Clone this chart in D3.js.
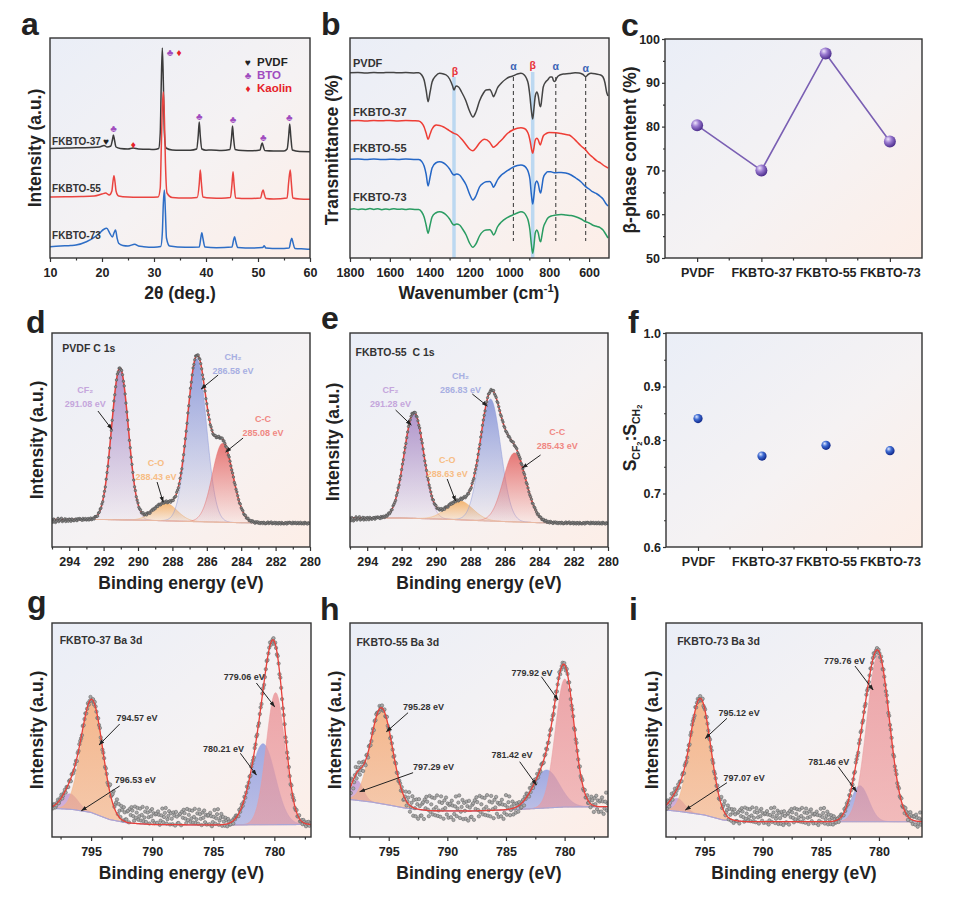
<!DOCTYPE html>
<html><head><meta charset="utf-8">
<script src="https://cdn.jsdelivr.net/npm/d3@7"></script>
<style>body{margin:0;background:#fff}svg{display:block}</style>
</head><body><svg id="fig" width="970" height="899"></svg>
<script>
// ================= DATA =================
// (a) XRD  [2theta, intensity a.u.]
const xrdNames=["FKBTO-37","FKBTO-55","FKBTO-73"];
const xrd37=[[10,109.5],[12,109.8],[14,110],[16,110.3],[18,110.5],[19.5,111],[20.4,112.5],[21.0,111],[21.7,112],[22.0,118],[22.2,123],[22.4,118],[22.7,111],[23.5,109.5],[25,109],[26,110],[27,109],[28.5,108.8],[30,108.5],[30.9,109.5],[31.2,125],[31.4,175],[31.6,210],[31.8,175],[32.0,125],[32.3,110],[33.5,108],[35,107.8],[37,107.8],[38.2,109],[38.5,122],[38.7,136],[38.9,122],[39.2,109],[40,107.8],[41,108],[43,107.5],[44.6,108.5],[44.9,120],[45.1,132],[45.3,120],[45.6,108.5],[47,107.5],[49,107.3],[50.4,108],[50.6,112],[50.8,115],[51.0,112],[51.3,107.5],[53,107],[55,107],[55.6,109],[55.9,122],[56.1,134],[56.3,122],[56.6,108],[58,106.5],[60,106.3]];
const xrd55=[[10,61],[13,61.3],[16,61.5],[18.5,62],[20,64],[20.7,65],[21.4,63],[21.9,67],[22.1,76],[22.3,82.3],[22.5,76],[22.7,67],[23.2,62],[25,61],[27,60.8],[29,60.8],[30.8,61],[31.2,70],[31.4,110],[31.6,150],[31.8,166],[32.0,140],[32.2,95],[32.5,65],[33.5,60.5],[36,60],[38.3,60.5],[38.7,74],[38.9,88],[39.1,76],[39.4,61],[41,60],[43,59.8],[44.7,60.5],[45.0,74],[45.2,86.3],[45.4,74],[45.7,60],[48,59.5],[50.5,60],[50.8,66],[51.0,68],[51.2,64],[51.5,59.5],[53,59],[55.6,60],[55.9,76],[56.2,88],[56.4,76],[56.7,60],[58,59],[60,58.7]];
const xrd73=[[10,11.3],[12,12],[14,12.5],[15,13],[17,16.3],[18.5,20.7],[19.5,24.7],[20.3,28.5],[20.9,29.7],[21.5,24.7],[22.0,21],[22.3,25],[22.6,28],[22.9,20],[23.2,14.7],[24,12.5],[25,12],[26.3,13.7],[27,12],[28,11.3],[30,10.7],[31.3,11.5],[31.6,25],[31.8,55],[32.0,68],[32.2,45],[32.4,20],[33,12],[36,10.7],[38.7,11],[39.0,20],[39.2,25.3],[39.4,20],[39.8,11],[42,10.3],[45.0,11],[45.3,18],[45.5,21.3],[45.7,17],[46.1,10.5],[49,10],[50.9,10.5],[51.2,12.3],[51.5,10],[54,9.5],[56.0,10],[56.3,17],[56.5,19.7],[56.7,16],[57.1,9.5],[59,9],[60,8.7]];
const xrdTicks=[10,20,30,40,50,60];
const xrdMinor=[15,25,35,45,55];
const xrdLegend=["PVDF","BTO","Kaolin"];
const xrdLegendSym=["♥","♣","♦"];
const xrdMarkSym=["♣","♣","♦","♣","♣","♣","♣","♥","♦"];
const xrdMarkAngle=[22.2,33.1,34.8,38.7,45.2,51.0,56.0,20.8,26.0];
const xrdMarkLevel=[130,206,206,142,139,121,141,117,114];

// (b) FTIR [wavenumber, transmittance a.u.]
const ftirNames=["PVDF","FKBTO-37","FKBTO-55","FKBTO-73"];
const ftirPVDF=[[1800,185.3],[1760,185.6],[1720,185.1],[1680,185.5],[1640,185.2],[1600,185.6],[1560,185.2],[1520,185.4],[1480,185.1],[1455,185.3],[1440,183],[1428,178],[1418,168],[1408,156.3],[1398,166],[1388,176],[1370,182],[1350,184.7],[1330,184],[1317,183],[1300,179],[1285,172],[1278,168],[1268,172],[1255,171],[1240,166],[1220,158],[1200,147],[1183,141],[1168,146],[1150,157],[1130,165],[1117,168],[1098,168.5],[1088,165],[1080,161.3],[1072,164],[1060,170],[1040,175],[1017,179],[1000,181],[983,182],[960,184],[942,184.7],[925,183],[915,180],[905,174],[897,162],[890,148],[883,139],[877,149],[870,162],[862,166],[855,162],[848,153],[843,151.3],[837,160],[830,171],[818,176],[808,178],[795,181],[785,181],[778,177],[772,176.5],[765,179],[755,182],[730,184],[700,184.5],[670,185.2],[650,185],[630,183.5],[617,181.5],[605,183.5],[590,184.7],[565,184],[542,183],[530,181],[520,175],[512,166],[505,162]];
const ftir37=[[1800,137.3],[1760,137.6],[1720,137.1],[1680,137.5],[1640,137.2],[1600,137.6],[1560,137.1],[1520,137.4],[1480,137.2],[1455,137],[1440,135],[1428,131],[1418,125],[1408,118.7],[1398,124],[1388,129],[1367,133],[1350,132.5],[1330,131],[1310,128.5],[1290,126],[1278,124.7],[1260,123],[1240,119],[1220,114],[1200,109],[1183,107.3],[1168,110],[1150,115],[1125,118.7],[1100,116],[1090,113],[1080,110.7],[1070,112],[1050,116],[1030,120],[1010,124.5],[983,128],[960,129.8],[942,130.3],[925,129.5],[912,127],[903,123],[895,116],[888,108],[883,104.7],[877,110],[870,118],[862,119.7],[855,118],[848,114],[845,113],[838,117],[830,122],[815,124.5],[800,125.5],[767,125.3],[740,124.5],[717,123.5],[700,123],[680,120],[660,116],[640,112],[617,108],[600,104],[583,101],[560,97],[542,95],[530,93],[517,91.3],[505,90]];
const ftir55=[[1800,98.7],[1760,99],[1720,98.5],[1680,98.9],[1640,98.4],[1600,98.8],[1560,98.5],[1520,98.9],[1480,98.6],[1455,98.5],[1440,96.5],[1428,92],[1418,84],[1408,72],[1398,81],[1388,90],[1370,95],[1350,96.3],[1330,95],[1317,93],[1300,89],[1285,84],[1278,83],[1265,84],[1250,83],[1235,79],[1217,73],[1200,64],[1183,58],[1168,62],[1150,71],[1130,75],[1117,76.3],[1098,76.5],[1088,74],[1080,70.7],[1072,73],[1060,78],[1040,83],[1017,86.3],[1000,88.5],[983,90.7],[960,92.5],[942,93],[925,92],[915,90],[905,86],[897,79],[890,64],[883,54],[877,62],[870,74],[862,77],[855,74],[848,67],[843,65],[837,71],[830,80],[818,84.5],[808,86.3],[792,86.3],[780,85.5],[767,85.3],[740,85.5],[717,85],[690,83],[667,80],[640,76],[617,71.3],[600,69],[583,66.3],[560,64],[542,61.3],[530,59],[517,54.7],[505,52]];
const ftir73=[[1800,48.7],[1780,49.3],[1760,48.4],[1740,49.1],[1720,48.5],[1700,49.4],[1680,48.6],[1660,49.2],[1640,48.3],[1620,49],[1600,48.6],[1580,49.3],[1560,48.7],[1540,49],[1520,48.4],[1500,48.9],[1475,48.6],[1455,48.5],[1440,46],[1428,41],[1418,33],[1408,24.7],[1398,33],[1388,41],[1370,45],[1350,46.3],[1330,45],[1317,43],[1300,39],[1285,34],[1278,33],[1265,34],[1250,33],[1235,29],[1217,23],[1200,15],[1183,10.7],[1168,14],[1150,22],[1130,27],[1117,28],[1098,28.3],[1088,26],[1080,23],[1072,25],[1060,31],[1040,36],[1017,39.7],[1000,41.5],[983,43],[960,45],[942,46.3],[925,45],[915,42],[905,37],[897,28],[890,14],[883,4.7],[877,12],[870,25],[862,28],[855,25],[848,18],[843,16.3],[837,22],[830,30],[818,36],[808,39.7],[790,42],[767,43],[740,43.5],[717,43],[690,42.5],[667,41.3],[640,39],[617,36.3],[600,35],[583,33],[560,31.5],[542,30],[530,28],[520,25],[505,20]];
const ftirTicks=[1800,1600,1400,1200,1000,800,600];
const ftirMinor=[1700,1500,1300,1100,900,700];
const bandPhase=["β","α","β","α","α"];
const bandWn=[1278,980,883,767,617];

// (c),(f)
const samples=["PVDF","FKBTO-37","FKBTO-55","FKBTO-73"];
const betaContent=[80.3,70.0,96.7,76.6];
const betaTicks=[50,60,70,80,90,100];
const ratioCF2CH2=[0.84,0.77,0.79,0.78];
const ratioTicks=[0.6,0.7,0.8,0.9,1.0];

// (d),(e) C 1s fits: peak centre (eV), height (a.u.), FWHM (eV)
const c1sNames=["CF₂","C-O","CH₂","C-C"];
const dBE=["291.08 eV","288.43 eV","286.58 eV","285.08 eV"];
const dCenter=[291.05,288.43,286.58,285.08];
const dHeight=[152,18,163,79];
const dFwhm=[1.15,1.6,1.3,1.4];
const dBaseline=[[295,27.5],[292,27.5],[289,26.5],[287,25.5],[284,24.3],[280,23.7]];
const eBE=["291.28 eV","288.63 eV","286.83 eV","285.43 eV"];
const eCenter=[291.28,288.63,286.83,285.43];
const eHeight=[106,19,122,69];
const eFwhm=[1.35,1.8,1.4,1.55];
const eBaseline=[[295,29],[292,29],[289,27.5],[287,26],[284,24.3],[280,23.7]];
const c1sTicks=[294,292,290,288,286,284,282,280];
const c1sMinor=[295,293,291,289,287,285,283,281];

// (g),(h),(i) Ba 3d fits
const gBE=["796.53 eV","794.57 eV","780.21 eV","779.06 eV"];
const gCenter=[796.75,794.93,780.93,779.9];
const gHeight=[15.5,113,81,132];
const gFwhm=[1.6,2.05,2.35,1.8];
const gBaseline=[[798.2,28.7],[796.5,27.5],[795,24.5],[793.5,17.5],[792,14],[790,12.5],[785,12],[777,12.5]];
const gScatter=[[798.2,3,0],[793.8,3,0],[793,9,9],[784.5,9,7],[783.5,3,0],[777,3,0]];
const hBE=["797.29 eV","795.28 eV","781.42 eV","779.92 eV"];
const hCenter=[797.7,795.62,781.55,779.99];
const hHeight=[20,96,38,128];
const hFwhm=[1.2,2.2,2.6,1.9];
const hBaseline=[[798.3,37.5],[796.5,35],[795,32],[793.5,28.7],[791.5,26.3],[788,26],[784,27.5],[780,30],[776.3,30.3]];
const hScatter=[[798.3,10,0],[797,6,0],[796,3,0],[794,4,0],[793,13,3],[785,13,3],[784,6,0],[782,3,0],[778,4,0],[777.5,10,2],[776.3,12,4]];
const iBE=["797.07 eV","795.12 eV","781.46 eV","779.76 eV"];
const iCenter=[797.35,795.35,781.64,780.07];
const iHeight=[13,116,36,167];
const iFwhm=[1.5,2.1,1.8,2.3];
const iBaseline=[[798.3,27],[797,25.3],[795,22],[793.4,17],[791.4,15.3],[776.3,15.3]];
const iScatter=[[798.3,6,0],[797,3,0],[794,3,0],[793,9,6],[784.5,9,5],[783.5,3,0],[778,3,0],[777,8,2],[776.3,8,2]];
const baTicks=[795,790,785,780];
const baMinor=[797.5,792.5,787.5,782.5,777.5];
const residual=[0.31,-0.72,0.55,0.18,-0.93,-0.47,0.12,0.88,-0.64,-0.05,0.41,0.96,-0.77,-0.29,0.08,0.61,-0.86,0.39,-0.22,-0.83,0.49,0.14,-0.97,0.55,0.03,-0.71,-0.68,0.24,0.36,-0.92,0.59,-0.08,0.81,0.44,-0.17,-0.66,0.91,-0.33,0.26,0.79,-0.52,-0.12,0.74,-0.58,0.05,0.95,-0.63,-0.21,0.45,-0.69,0.88,0.37,-0.14,-0.84,0.57,-0.02,0.79,-0.51,0.33,-0.76,0.21];

// ================= LAYOUT / STYLE =================
const FONT='"Liberation Sans", Arial, Helvetica, sans-serif';
const svg=d3.select("#fig").attr("font-family",FONT).attr("font-weight","bold");
const defs=svg.append("defs");
const bgG=defs.append("linearGradient").attr("id","bgGrad").attr("x1",0).attr("y1",0).attr("x2",1).attr("y2",1);
bgG.append("stop").attr("offset","0%").attr("stop-color","#eaeef7");
bgG.append("stop").attr("offset","55%").attr("stop-color","#f5f2f3");
bgG.append("stop").attr("offset","100%").attr("stop-color","#fdeee7");
defs.append("marker").attr("id","arr").attr("viewBox","0 0 10 10").attr("refX",9).attr("refY",5)
  .attr("markerWidth",6).attr("markerHeight",6).attr("orient","auto")
  .append("path").attr("d","M0,1.5L10,5L0,8.5Z").attr("fill","#222");

function sphereGrad(id,c0,c1,c2){
  const g=defs.append("radialGradient").attr("id",id).attr("cx","38%").attr("cy","35%").attr("r","65%").attr("fx","35%").attr("fy","30%");
  g.append("stop").attr("offset","0%").attr("stop-color",c0);
  g.append("stop").attr("offset","45%").attr("stop-color",c1);
  g.append("stop").attr("offset","100%").attr("stop-color",c2);
}
sphereGrad("sphP","#efe6fb","#9a7ad0","#4e2f8e");
sphereGrad("sphB","#dfe8ff","#3d6ad2","#10288a");

function panel(id,b){
  const g=svg.append("g");
  g.append("rect").attr("x",b.x0).attr("y",b.y0).attr("width",b.x1-b.x0).attr("height",b.y1-b.y0).attr("fill","url(#bgGrad)");
  defs.append("clipPath").attr("id","clip"+id).append("rect").attr("x",b.x0).attr("y",b.y0).attr("width",b.x1-b.x0).attr("height",b.y1-b.y0);
  const c=g.append("g").attr("clip-path",`url(#clip${id})`);
  return {g,c};
}
function frame(g,b){
  g.append("rect").attr("x",b.x0).attr("y",b.y0).attr("width",b.x1-b.x0).attr("height",b.y1-b.y0)
    .attr("fill","none").attr("stroke","#333").attr("stroke-width",1.4);
}
function styleAxis(ax,fs){
  ax.attr("font-family",FONT).attr("font-weight","bold");
  ax.select(".domain").remove();
  ax.selectAll("line").attr("stroke","#333").attr("stroke-width",1.2);
  ax.selectAll("text").attr("font-size",fs||12.5).attr("fill","#222").attr("font-weight","bold");
}
function xAxis(g,x,b,major,minor,fmt){
  const a=g.append("g").attr("transform",`translate(0,${b.y1})`)
    .call(d3.axisBottom(x).tickValues(major).tickSize(4).tickSizeOuter(0).tickPadding(6).tickFormat(fmt||d3.format("d")));
  styleAxis(a);
  if(minor){
    const m=g.append("g").attr("transform",`translate(0,${b.y1})`)
      .call(d3.axisBottom(x).tickValues(minor).tickSize(2.5).tickSizeOuter(0).tickFormat(""));
    styleAxis(m);
  }
}
function xTitle(parts,cx,y){
  const t=svg.append("text").attr("x",cx).attr("y",y).attr("text-anchor","middle").attr("font-size",17.5).attr("fill","#222");
  parts(t);
}
function yTitle(str,x,cy){
  svg.append("text").attr("transform",`translate(${x},${cy}) rotate(-90)`).attr("text-anchor","middle")
    .attr("dy","0.35em").attr("font-size",17.5).attr("fill","#222").text(str);
}
function letter(s,x,y){svg.append("text").attr("x",x).attr("y",y).attr("font-size",32).attr("fill","#222").text(s);}

// ================= (a) XRD =================
(function(){
  const b={x0:50,x1:310,y0:38,y1:258};
  const x=d3.scaleLinear().domain([10,60]).range([b.x0,b.x1]);
  const y=d3.scaleLinear().domain([0,220]).range([b.y1,b.y0]);
  const P=panel("a",b);
  const line=d3.line().x(d=>x(d[0])).y(d=>y(d[1])).curve(d3.curveMonotoneX);
  const cols=["#3b3b3b","#ea4440","#2e6ec6"];
  [xrd37,xrd55,xrd73].forEach((s,i)=>P.c.append("path").datum(s).attr("d",line).attr("fill","none").attr("stroke",cols[i]).attr("stroke-width",1.5));
  const lvl=[117,70,23];
  xrdNames.forEach((n,i)=>P.c.append("text").attr("x",x(10.4)).attr("y",y(lvl[i])).attr("dy","0.35em").attr("font-size",10).attr("fill","#333").text(n));
  const symCol={"♥":"#222","♣":"#a04cbf","♦":"#e62129"};
  xrdMarkSym.forEach((s,i)=>P.c.append("text").attr("x",x(xrdMarkAngle[i])).attr("y",y(xrdMarkLevel[i])).attr("dy","0.35em")
    .attr("text-anchor","middle").attr("font-size",10).attr("fill",symCol[s]).text(s));
  const legCol=["#222","#a04cbf","#e62129"];
  xrdLegend.forEach((n,i)=>{
    const yy=62+i*13;
    P.c.append("text").attr("x",248).attr("y",yy).attr("dy","0.35em").attr("text-anchor","middle").attr("font-size",10).attr("fill",legCol[i]).text(xrdLegendSym[i]);
    P.c.append("text").attr("x",257).attr("y",yy).attr("dy","0.35em").attr("font-size",11.5).attr("fill",legCol[i]).text(n);
  });
  frame(P.g,b);
  xAxis(P.g,x,b,xrdTicks,xrdMinor);
  xTitle(t=>t.text("2θ (deg.)"),180,299);
  yTitle("Intensity (a.u.)",35,148);
  letter("a",21,35);
})();

// ================= (b) FTIR =================
(function(){
  const b={x0:350,x1:609,y0:38,y1:258};
  const x=d3.scaleLinear().domain([1800,500]).range([b.x0,b.x1]);
  const y=d3.scaleLinear().domain([0,220]).range([b.y1,b.y0]);
  const P=panel("b",b);
  bandWn.forEach((w,i)=>{
    if(bandPhase[i]==="β"){
      P.c.append("line").attr("x1",x(w)).attr("x2",x(w)).attr("y1",y(i===0?181:186)).attr("y2",y(0)).attr("stroke","#bcd8f1").attr("stroke-width",3.5);
    }else{
      P.c.append("line").attr("x1",x(w)).attr("x2",x(w)).attr("y1",y(181)).attr("y2",y(17)).attr("stroke","#333").attr("stroke-width",1).attr("stroke-dasharray","4,3");
    }
  });
  const line=d3.line().x(d=>x(d[0])).y(d=>y(d[1])).curve(d3.curveMonotoneX);
  const cols=["#444","#ee3d35","#2567c6","#2a9c62"];
  [ftirPVDF,ftir37,ftir55,ftir73].forEach((s,i)=>P.c.append("path").datum(s).attr("d",line).attr("fill","none").attr("stroke",cols[i]).attr("stroke-width",1.5));
  const lvl=[195,146,110,61];
  ftirNames.forEach((n,i)=>P.c.append("text").attr("x",x(1785)).attr("y",y(lvl[i])).attr("dy","0.35em").attr("font-size",11).attr("fill","#333").text(n));
  const lblLvl=[187,192,193,192,190];
  bandWn.forEach((w,i)=>P.c.append("text").attr("x",x(w)+(i===0?1:0)).attr("y",y(lblLvl[i])).attr("dy","0.35em").attr("text-anchor","middle")
    .attr("font-size",10.5).attr("fill",bandPhase[i]==="β"?"#e8333a":"#3a62b5").text(bandPhase[i]));
  frame(P.g,b);
  xAxis(P.g,x,b,ftirTicks,ftirMinor);
  xTitle(t=>{t.append("tspan").text("Wavenumber (cm");t.append("tspan").attr("font-size",11).attr("dy",-7).text("-1");t.append("tspan").attr("dy",7).text(")");},479,299);
  yTitle("Transmittance (%)",332,150);
  letter("b",321,35);
})();

// ================= (c),(f) category panels =================
function catPanel(id,b,vals,dom,ticks,minor,fmt,grad,r,withLine){
  const x=d3.scalePoint().domain(samples).range([b.x0,b.x1]).padding(0.5);
  const y=d3.scaleLinear().domain(dom).range([b.y1,b.y0]);
  const P=panel(id,b);
  if(withLine) P.c.append("path").datum(vals).attr("d",d3.line().x((d,i)=>x(samples[i])).y(d=>y(d)))
    .attr("fill","none").attr("stroke","#7a5fb3").attr("stroke-width",1.6);
  P.c.selectAll("circle.pt").data(vals).join("circle").attr("cx",(d,i)=>x(samples[i])).attr("cy",d=>y(d)).attr("r",r).attr("fill",`url(#${grad})`);
  frame(P.g,b);
  const ax=P.g.append("g").attr("transform",`translate(0,${b.y1})`).call(d3.axisBottom(x).tickSize(4).tickSizeOuter(0).tickPadding(6));
  styleAxis(ax);
  const mids=samples.slice(0,3).map(s=>x(s)+x.step()/2);
  P.g.selectAll("line.mx").data(mids).join("line").attr("x1",d=>d).attr("x2",d=>d).attr("y1",b.y1).attr("y2",b.y1+2.5).attr("stroke","#333").attr("stroke-width",1.2);
  const ay=P.g.append("g").attr("transform",`translate(${b.x0},0)`).call(d3.axisLeft(y).tickValues(ticks).tickSize(3).tickSizeOuter(0).tickPadding(2).tickFormat(fmt));
  styleAxis(ay);
  const my=P.g.append("g").attr("transform",`translate(${b.x0},0)`).call(d3.axisLeft(y).tickValues(minor).tickSize(2).tickSizeOuter(0).tickFormat(""));
  styleAxis(my);
  return P;
}
catPanel("c",{x0:665,x1:922,y0:39,y1:258},betaContent,[50,100],betaTicks,[55,65,75,85,95],d3.format("d"),"sphP",6,true);
yTitle("β-phase content (%)",630,150);
letter("c",621,36);
catPanel("f",{x0:666,x1:922,y0:333,y1:547},ratioCF2CH2,[0.6,1.0],ratioTicks,[0.65,0.75,0.85,0.95],d3.format(".1f"),"sphB",4.6,false);
(function(){
  const t=svg.append("text").attr("transform","translate(630,438) rotate(-90)").attr("text-anchor","middle").attr("dy","0.35em").attr("font-size",17.5).attr("fill","#222");
  t.append("tspan").text("S");
  t.append("tspan").attr("font-size",10.5).attr("dy",4).text("CF");
  t.append("tspan").attr("font-size",7.5).attr("dy",2).text("2");
  t.append("tspan").attr("font-size",17.5).attr("dy",-6).text(":S");
  t.append("tspan").attr("font-size",10.5).attr("dy",4).text("CH");
  t.append("tspan").attr("font-size",7.5).attr("dy",2).text("2");
})();
letter("f",628,333);

// ================= XPS panels =================
function lin(pts,col){return d3.scaleLinear().domain(pts.map(p=>p[0])).range(pts.map(p=>p[col])).clamp(true);}
function drawXPS(o){
  const b=o.box;
  const x=d3.scaleLinear().domain(o.domain).range([b.x0,b.x1]);
  const y=d3.scaleLinear().domain([0,214]).range([b.y1,b.y0]);
  const P=panel(o.id,b);
  const bl=lin(o.base,1);
  const comps=o.center.map((c,k)=>({c,h:o.height[k],w:o.fwhm[k]}));
  const gs=(p,E)=>p.h*Math.exp(-4*Math.LN2*(E-p.c)*(E-p.c)/(p.w*p.w));
  const grid=d3.range(o.domain[0],o.domain[1]-0.01,-0.02).concat([o.domain[1]]);
  o.order.forEach(k=>{
    const p=comps[k];
    const gid=`g${o.id}${k}`;
    const lg=defs.append("linearGradient").attr("id",gid).attr("x1",0).attr("y1",0).attr("x2",0).attr("y2",1);
    lg.append("stop").attr("offset","0%").attr("stop-color",o.colors[k]).attr("stop-opacity",o.op0);
    lg.append("stop").attr("offset","100%").attr("stop-color",o.colors[k]).attr("stop-opacity",o.op1);
    const area=d3.area().x(E=>x(E)).y0(E=>y(bl(E))).y1(E=>y(bl(E)+gs(p,E)));
    P.c.append("path").datum(grid).attr("d",area).attr("fill",`url(#${gid})`);
    P.c.append("path").datum(grid).attr("d",d3.line().x(E=>x(E)).y(E=>y(bl(E)+gs(p,E)))).attr("fill","none").attr("stroke",o.colors[k]).attr("stroke-opacity",0.7).attr("stroke-width",0.7);
  });
  P.c.append("path").datum(grid).attr("d",d3.line().x(E=>x(E)).y(E=>y(bl(E)))).attr("fill","none").attr("stroke",o.baseCol).attr("stroke-width",1.1);
  const env=E=>bl(E)+d3.sum(comps,p=>gs(p,E));
  const amp=lin(o.scatter,1), off=lin(o.scatter,2);
  const dots=d3.range(o.domain[0],o.domain[1],-o.step).map((E,i)=>[E,env(E)+off(E)+amp(E)*residual[i%residual.length]]);
  const envLine=d3.line().x(E=>x(E)).y(E=>y(env(E)));
  if(o.envFirst) P.c.append("path").datum(grid).attr("d",envLine).attr("fill","none").attr("stroke","#e8403a").attr("stroke-width",1.5);
  P.c.selectAll("circle.d").data(dots).join("circle").attr("cx",d=>x(d[0])).attr("cy",d=>y(d[1])).attr("r",o.dotR)
    .attr("fill",o.dotFill).attr("stroke",o.dotStroke).attr("stroke-width",0.5);
  if(!o.envFirst) P.c.append("path").datum(grid).attr("d",envLine).attr("fill","none").attr("stroke","#e8403a").attr("stroke-width",1.3);
  o.notes.forEach(n=>{
    n.lines.forEach((s,j)=>P.c.append("text").attr("x",x(n.E)).attr("y",y(n.v-j*14)).attr("dy","0.35em")
      .attr("text-anchor",o.anchor).attr("font-size",9).attr("fill",o.labelCols?o.labelCols[n.k]:"#333")
      .text(s));
    P.c.append("line").attr("x1",x(n.a[0])).attr("y1",y(n.a[1])).attr("x2",x(n.a[2])).attr("y2",y(n.a[3]))
      .attr("stroke","#222").attr("stroke-width",1).attr("marker-end","url(#arr)");
  });
  P.c.append("text").attr("x",x(o.title.E)).attr("y",y(o.title.v)).attr("dy","0.35em").attr("font-size",10.5).attr("fill","#333")
    .style("white-space","pre").text(o.title.t);
  frame(P.g,b);
  xAxis(P.g,x,b,o.ticks,o.minor);
  xTitle(t=>t.text("Binding energy (eV)"),(b.x0+b.x1)/2,o.titleY);
  yTitle("Intensity (a.u.)",o.yTitleX,o.yTitleY);
}
const c1sCols=["#a98bc6","#f4b066","#8a97d8","#e56a68"];
const c1sLabelCols=["#c5a6dc","#f7bd85","#a8afe2","#f08883"];
const baCols=["#c59ad2","#f5ad7b","#929ee0","#eb979b"];

drawXPS({id:"d",box:{x0:52,x1:310,y0:333,y1:547},domain:[295,280],center:dCenter,height:dHeight,fwhm:dFwhm,base:dBaseline,
  scatter:[[295,2.5,-1],[293.5,1.2,0],[280,1,0]],order:[0,1,2,3],colors:c1sCols,labelCols:c1sLabelCols,op0:0.9,op1:0.05,
  baseCol:"#e9b9a3",step:0.05,dotR:1.25,dotFill:"#8a8a8a",dotStroke:"#444",envFirst:true,anchor:"middle",
  notes:[{k:0,lines:[c1sNames[0],dBE[0]],E:293.07,v:157,a:[292.33,136,291.52,117.7]},
         {k:2,lines:[c1sNames[2],dBE[2]],E:284.47,v:190,a:[285.34,172,286.33,158]},
         {k:3,lines:[c1sNames[3],dBE[3]],E:282.73,v:128,a:[283.89,109,284.9,95]},
         {k:1,lines:[c1sNames[1],dBE[1]],E:288.95,v:84,a:[288.89,65,288.54,45]}],
  title:{t:"PVDF C 1s",E:294.4,v:199},ticks:c1sTicks,minor:c1sMinor,titleY:589,yTitleX:37,yTitleY:440});
letter("d",26,333);

drawXPS({id:"e",box:{x0:350,x1:608,y0:333,y1:547},domain:[295,280],center:eCenter,height:eHeight,fwhm:eFwhm,base:eBaseline,
  scatter:[[295,2.5,-1],[293.5,1.2,0],[280,1,0]],order:[0,1,2,3],colors:c1sCols,labelCols:c1sLabelCols,op0:0.9,op1:0.05,
  baseCol:"#e9b9a3",step:0.05,dotR:1.25,dotFill:"#8a8a8a",dotStroke:"#444",envFirst:true,anchor:"middle",
  notes:[{k:0,lines:[c1sNames[0],eBE[0]],E:292.64,v:157,a:[292.35,137,291.44,122]},
         {k:2,lines:[c1sNames[2],eBE[2]],E:288.57,v:171,a:[287.89,153,287.02,141]},
         {k:3,lines:[c1sNames[3],eBE[3]],E:282.95,v:115.3,a:[283.92,92,284.98,79]},
         {k:1,lines:[c1sNames[1],eBE[1]],E:289.35,v:87,a:[289.35,68,288.86,46]}],
  title:{t:"FKBTO-55  C 1s",E:294.68,v:194.3},ticks:c1sTicks,minor:c1sMinor,titleY:589,yTitleX:333,yTitleY:442});
letter("e",321,329);

drawXPS({id:"g",box:{x0:52,x1:311,y0:623,y1:837},domain:[798.2,777],center:gCenter,height:gHeight,fwhm:gFwhm,base:gBaseline,
  scatter:gScatter,order:[0,1,2,3],colors:baCols,op0:0.85,op1:0.6,baseCol:"#a9a6d6",step:0.07,dotR:1.7,dotFill:"#a8a8a8",dotStroke:"#5a5a5a",
  envFirst:false,anchor:"start",
  notes:[{lines:[gBE[1]],E:792.93,v:118.7,a:[792.66,113,794.35,92]},
         {lines:[gBE[0]],E:793.07,v:57,a:[792.66,51,795.79,26.3]},
         {lines:[gBE[3]],E:784.15,v:159.7,a:[781.47,154,779.98,130.3]},
         {lines:[gBE[2]],E:785.84,v:87.7,a:[782.78,83.7,781.47,62]}],
  title:{t:"FKBTO-37 Ba 3d",E:797.57,v:197},ticks:baTicks,minor:baMinor,titleY:879,yTitleX:37,yTitleY:730});
letter("g",27,613);

drawXPS({id:"h",box:{x0:350,x1:608,y0:623,y1:837},domain:[798.3,776.3],center:hCenter,height:hHeight,fwhm:hFwhm,base:hBaseline,
  scatter:hScatter,order:[0,1,2,3],colors:baCols,op0:0.85,op1:0.6,baseCol:"#a9a6d6",step:0.07,dotR:1.7,dotFill:"#a8a8a8",dotStroke:"#5a5a5a",
  envFirst:false,anchor:"start",
  notes:[{lines:[hBE[1]],E:793.78,v:130.3,a:[793.35,124.3,795.19,105.3]},
         {lines:[hBE[0]],E:792.92,v:70.3,a:[792.92,64.3,797.47,45.3]},
         {lines:[hBE[3]],E:784.53,v:164.3,a:[781.98,160.3,780.56,137]},
         {lines:[hBE[2]],E:786.24,v:82,a:[783.83,75.3,782.4,52]}],
  title:{t:"FKBTO-55 Ba 3d",E:797.75,v:194.7},ticks:baTicks,minor:baMinor,titleY:879,yTitleX:335,yTitleY:730});
letter("h",320,620);

drawXPS({id:"i",box:{x0:666,x1:922,y0:623,y1:837},domain:[798.3,776.3],center:iCenter,height:iHeight,fwhm:iFwhm,base:iBaseline,
  scatter:iScatter,order:[0,1,2,3],colors:baCols,op0:0.85,op1:0.6,baseCol:"#a9a6d6",step:0.07,dotR:1.7,dotFill:"#a8a8a8",dotStroke:"#5a5a5a",
  envFirst:false,anchor:"start",
  notes:[{lines:[iBE[1]],E:793.78,v:123.7,a:[793.06,118.7,794.92,98.7]},
         {lines:[iBE[0]],E:793.35,v:58.7,a:[793.06,54.3,796.63,27]},
         {lines:[iBE[3]],E:784.72,v:176,a:[782.06,171,780.5,147]},
         {lines:[iBE[2]],E:786.07,v:75.3,a:[783.5,70.3,781.92,45.3]}],
  title:{t:"FKBTO-73 Ba 3d",E:797.34,v:195.3},ticks:baTicks,minor:baMinor,titleY:879,yTitleX:652,yTitleY:730});
letter("i",629,620);
</script></body></html>
